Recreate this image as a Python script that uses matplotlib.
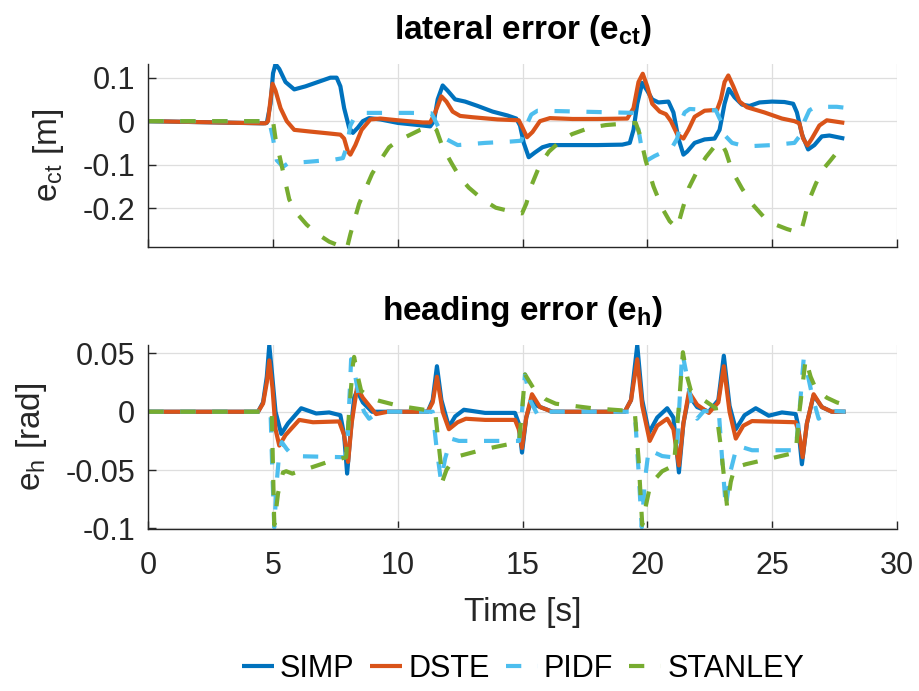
import matplotlib
matplotlib.use("Agg")
import matplotlib.pyplot as plt

plt.rcParams['font.family'] = ['Liberation Sans', 'DejaVu Sans']
plt.rcParams['mathtext.fontset'] = 'custom'
plt.rcParams['mathtext.rm'] = 'Liberation Sans'
plt.rcParams['mathtext.it'] = 'Liberation Sans:italic'
plt.rcParams['mathtext.bf'] = 'Liberation Sans:bold'
plt.rcParams['lines.scale_dashes'] = False
plt.rcParams['axes.unicode_minus'] = False

# ---------------- data: lateral error e_ct [m] ----------------
t_simp_ct = [0, 4.6, 4.75, 4.9, 5.0, 5.1, 5.25, 5.5, 5.85, 6.3, 6.8, 7.3, 7.55, 7.7, 7.85, 8.05, 8.2,
             8.4, 8.6, 8.85, 9.3, 10, 11.0, 11.3, 11.45, 11.6, 11.8, 12.0, 12.3, 12.7, 13.2, 13.8,
             14.4, 14.75, 14.9, 15.05, 15.25, 15.5, 15.8, 16.1, 17, 18, 19.0, 19.3, 19.45, 19.6,
             19.8, 20.0, 20.2, 20.45, 20.85, 21.05, 21.25, 21.45, 21.6, 21.9, 22.3, 22.7, 22.9,
             23.1, 23.27, 23.5, 23.8, 24.1, 24.5, 25, 25.5, 25.85, 26.0, 26.2, 26.45, 26.7, 27.0,
             27.3, 27.9]
simp_ct = [0, -0.005, -0.004, 0.04, 0.11, 0.131, 0.12, 0.09, 0.073, 0.08, 0.09, 0.1, 0.1, 0.08,
           0.03, -0.015, -0.027, -0.015, 0.0, 0.007, 0.004, -0.004, -0.01, -0.012, 0.0, 0.05,
           0.082, 0.07, 0.05, 0.045, 0.035, 0.022, 0.013, 0.006, -0.01, -0.05, -0.083, -0.072,
           -0.06, -0.055, -0.055, -0.055, -0.054, -0.05, -0.02, 0.04, 0.088, 0.07, 0.05, 0.043,
           0.045, 0.02, -0.04, -0.077, -0.07, -0.05, -0.042, -0.04, -0.02, 0.04, 0.074, 0.055,
           0.038, 0.035, 0.043, 0.045, 0.044, 0.04, 0.02, -0.03, -0.065, -0.055, -0.035, -0.033,
           -0.04]

t_dste_ct = [0, 4.7, 4.8, 4.9, 4.98, 5.1, 5.3, 5.55, 5.85, 6.5, 7.2, 7.7, 7.85, 8.0, 8.1, 8.3, 8.55,
             8.9, 9.3, 10, 11, 11.3, 11.5, 11.75, 11.95, 12.2, 12.5, 13, 14, 14.85, 15.0, 15.18,
             15.4, 15.7, 16.1, 17, 18, 19.2, 19.45, 19.65, 19.82, 20.0, 20.2, 20.5, 20.75, 20.95,
             21.2, 21.45, 21.65, 21.9, 22.3, 22.8, 22.95, 23.1, 23.25, 23.45, 23.7, 24.0, 24.7,
             25.4, 25.9, 26.1, 26.25, 26.42, 26.6, 26.9, 27.2, 27.9]
dste_ct = [0, -0.005, 0.0, 0.05, 0.086, 0.07, 0.03, 0.0, -0.02, -0.024, -0.028, -0.031, -0.04,
           -0.07, -0.077, -0.055, -0.02, 0.004, 0.006, 0.002, -0.003, -0.003, 0.02, 0.057, 0.045,
           0.022, 0.012, 0.009, 0.004, 0.002, -0.015, -0.037, -0.025, 0.0, 0.007, 0.005, 0.005,
           0.006, 0.03, 0.09, 0.109, 0.08, 0.04, 0.022, 0.016, 0.0, -0.03, -0.04, -0.02, 0.01,
           0.024, 0.026, 0.05, 0.09, 0.105, 0.08, 0.045, 0.032, 0.02, 0.006, 0.0, -0.005, -0.04,
           -0.056, -0.04, -0.01, 0.002, -0.004]

t_pidf_ct = [0, 4.85, 5.0, 5.15, 5.4, 5.6, 6.5, 7.5, 7.8, 7.95, 8.1, 8.3, 8.6, 9.5, 10.5, 11.35,
             11.6, 11.9, 12.4, 13.5, 14.5, 14.95, 15.15, 15.35, 15.6, 16.5, 18, 19.5, 19.65, 19.8,
             20.0, 20.3, 20.6, 21.0, 21.2, 21.35, 21.5, 21.7, 22.3, 22.75, 22.95, 23.15, 23.4,
             23.95, 25, 25.9, 26.1, 26.3, 26.5, 26.75, 27.3, 27.6, 27.9]
pidf_ct = [0, 0.0, -0.04, -0.09, -0.105, -0.097, -0.093, -0.088, -0.085, -0.06, -0.01, 0.012,
           0.019, 0.019, 0.019, 0.018, -0.01, -0.04, -0.055, -0.05, -0.047, -0.045, -0.01, 0.015,
           0.024, 0.023, 0.021, 0.019, -0.02, -0.07, -0.09, -0.08, -0.072, -0.06, -0.04, 0.0,
           0.02, 0.028, 0.026, 0.025, 0.0, -0.035, -0.05, -0.058, -0.055, -0.05, -0.035, 0.0,
           0.025, 0.033, 0.033, 0.033, 0.031]

t_stan_ct = [0, 5.0, 5.1, 5.3, 5.65, 6.0, 6.35, 6.8, 7.25, 7.6, 7.95, 8.1, 8.45, 8.97, 9.3, 9.65,
             10.0, 10.33, 10.9, 11.37, 11.55, 11.8, 12.17, 12.5, 12.85, 13.4, 13.93, 14.5, 14.98,
             15.15, 15.38, 15.7, 16.06, 16.5, 16.98, 17.7, 18.34, 19.0, 19.54, 19.7, 19.94, 20.25,
             20.6, 20.9, 21.2, 21.4, 21.67, 22.0, 22.35, 22.7, 22.95, 23.15, 23.4, 23.8, 24.2,
             24.7, 25.15, 25.6, 26.0, 26.15, 26.3, 26.47, 26.75, 27.0, 27.35, 27.67, 27.9]
stan_ct = [0, 0.0, -0.04, -0.09, -0.18, -0.215, -0.238, -0.26, -0.277, -0.285, -0.295, -0.26,
           -0.19, -0.121, -0.09, -0.06, -0.045, -0.036, -0.02, -0.011, -0.02, -0.06, -0.098,
           -0.13, -0.153, -0.18, -0.199, -0.207, -0.212, -0.19, -0.145, -0.1, -0.07, -0.047,
           -0.03, -0.015, -0.009, -0.006, -0.004, -0.03, -0.091, -0.15, -0.2, -0.23, -0.246,
           -0.205, -0.153, -0.115, -0.083, -0.058, -0.048, -0.07, -0.114, -0.155, -0.19, -0.222,
           -0.238, -0.248, -0.255, -0.257, -0.225, -0.184, -0.145, -0.114, -0.09, -0.067, -0.05]

# ---------------- data: heading error e_h [rad] ----------------
t_simp_h = [0, 4.4, 4.6, 4.75, 4.85, 4.95, 5.1, 5.33, 5.6, 6.13, 6.73, 7.25, 7.7, 7.85, 7.97, 8.1,
            8.25, 8.37, 8.6, 8.97, 11.2, 11.4, 11.57, 11.75, 12.05, 12.3, 12.65, 13.5, 14.7, 14.85,
            14.98, 15.15, 15.38, 15.6, 16.2, 19.1, 19.35, 19.6, 19.8, 20.07, 20.4, 20.8, 21.05,
            21.27, 21.45, 21.67, 22.0, 22.47, 22.85, 23.07, 23.3, 23.55, 23.9, 24.35, 24.87, 25.4,
            25.95, 26.05, 26.2, 26.4, 26.67, 27.0, 27.4, 27.95]
simp_h = [0, 0, 0.008, 0.03, 0.057, 0.035, 0.0, -0.019, -0.01, 0.003, -0.0015, -0.0006, -0.003,
          -0.02, -0.053, -0.02, 0.012, 0.018, 0.008, 0.0, 0.0, 0.01, 0.039, 0.01, -0.013, -0.004,
          0.0017, -0.001, -0.001, -0.01, -0.035, -0.005, 0.012, 0.005, 0.0, 0.0, 0.01, 0.057,
          0.01, -0.018, -0.005, 0.003, -0.005, -0.052, -0.01, 0.014, 0.004, 0.0, 0.01, 0.048,
          0.005, -0.015, -0.003, 0.003, -0.0034, -0.0006, -0.002, -0.012, -0.045, -0.01, 0.014,
          0.004, 0.0, 0.0]

t_dste_h = [0, 4.4, 4.6, 4.75, 4.85, 4.98, 5.1, 5.25, 5.5, 6.05, 6.6, 7.65, 7.85, 8.01, 8.15, 8.37,
            8.6, 9.13, 9.6, 11.2, 11.4, 11.57, 11.8, 12.05, 12.4, 12.73, 13.5, 14.7, 14.85, 14.98,
            15.15, 15.38, 15.7, 16.2, 19.1, 19.35, 19.6, 19.8, 20.1, 20.4, 20.8, 21.05, 21.27,
            21.45, 21.67, 22.0, 22.47, 22.85, 23.07, 23.3, 23.55, 23.85, 24.2, 25.95, 26.08, 26.23,
            26.4, 26.67, 27.0, 27.4, 27.95]
dste_h = [0, 0, 0.007, 0.025, 0.044, 0.02, -0.015, -0.029, -0.02, -0.007, -0.009, -0.0083, -0.02,
          -0.043, -0.01, 0.021, 0.012, -0.002, 0.0, 0.0, 0.008, 0.03, 0.0, -0.015, -0.009, -0.006,
          -0.007, -0.007, -0.015, -0.031, -0.005, 0.015, 0.004, 0.0, 0.0, 0.01, 0.045, 0.005,
          -0.025, -0.012, -0.006, -0.015, -0.046, -0.01, 0.017, 0.006, -0.001, 0.008, 0.039, 0.0,
          -0.023, -0.012, -0.008, -0.009, -0.018, -0.039, -0.01, 0.015, 0.004, 0.0, 0.0]

t_pidf_h = [0, 4.9, 4.97, 5.05, 5.15, 5.25, 5.35, 5.55, 5.8, 7.9, 8.0, 8.13, 8.3, 8.45, 8.65, 8.85,
            9.25, 11.4, 11.55, 11.73, 11.9, 12.13, 12.45, 14.86, 14.98, 15.1, 15.3, 15.66, 16.06,
            19.5, 19.65, 19.78, 19.9, 20.06, 20.3, 20.6, 21.0, 21.2, 21.3, 21.4, 21.55, 21.67,
            21.85, 22.0, 22.27, 22.87, 23.0, 23.15, 23.35, 23.6, 24.2, 25.95, 26.1, 26.27, 26.45,
            26.6, 26.87, 27.27, 27.95]
pidf_h = [0, 0, -0.05, -0.099, -0.06, -0.035, -0.026, -0.032, -0.038, -0.039, -0.02, 0.045, 0.03,
          0.012, 0.0, -0.006, 0.0, 0.0, -0.03, -0.059, -0.04, -0.023, -0.025, -0.025, 0.0, 0.032,
          0.01, -0.005, 0.0, 0.0, -0.05, -0.099, -0.06, -0.032, -0.035, -0.038, -0.039, -0.03,
          0.01, 0.051, 0.035, 0.02, 0.0, -0.006, 0.0006, 0.0, -0.04, -0.082, -0.05, -0.029,
          -0.033, -0.033, 0.0, 0.045, 0.03, 0.015, -0.006, 0.001, 0.0]

t_stan_h = [0, 4.95, 5.0, 5.05, 5.2, 5.4, 5.53, 5.77, 6.5, 7.2, 7.93, 8.05, 8.2, 8.25, 8.4, 8.53,
            8.9, 9.25, 10.05, 10.97, 11.5, 11.65, 11.8, 11.95, 12.2, 12.45, 13.5, 14.86, 14.98,
            15.1, 15.3, 15.5, 15.9, 16.33, 17.8, 19.1, 19.5, 19.65, 19.8, 19.95, 20.13, 20.6,
            21.07, 21.25, 21.43, 21.6, 21.75, 22.2, 22.75, 22.95, 23.2, 23.35, 23.5, 23.95, 25.95,
            26.1, 26.35, 26.55, 26.75, 27.2, 27.6, 27.9]
stan_h = [0, 0, -0.05, -0.097, -0.07, -0.052, -0.051, -0.053, -0.048, -0.043, -0.039, 0.0, 0.04,
          0.047, 0.03, 0.018, 0.012, 0.0094, 0.005, 0.002, 0.0, -0.03, -0.059, -0.05, -0.042,
          -0.038, -0.032, -0.026, 0.0, 0.032, 0.025, 0.018, 0.011, 0.0069, 0.003, 0.001, 0.0,
          -0.04, -0.097, -0.08, -0.062, -0.051, -0.046, 0.0, 0.051, 0.03, 0.018, 0.011, 0.003,
          -0.03, -0.081, -0.06, -0.048, -0.045, -0.035, 0.0, 0.045, 0.03, 0.02, 0.012, 0.008,
          0.006]

labels = ['SIMP', 'DSTE', 'PIDF', 'STANLEY']
colors = ['#0072BD', '#D95319', '#4DBEEE', '#77AC30']

x_ticks = [0, 5, 10, 15, 20, 25, 30]
ct_ticks = [0.1, 0, -0.1, -0.2]
ct_ticklabels = ['0.1', '0', '-0.1', '-0.2']
h_ticks = [0.05, 0, -0.05, -0.1]
h_ticklabels = ['0.05', '0', '-0.05', '-0.1']

# ---------------- figure ----------------
W, H = 919, 691
fig = plt.figure(figsize=(W / 100, H / 100), dpi=100)
ax1 = fig.add_axes([148.3 / W, 1 - 247.3 / H, 748.4 / W, 183.3 / H])
ax2 = fig.add_axes([148.3 / W, 1 - 529 / H, 748.4 / W, 184 / H])

txt = '#262626'
lw = 3.0
dash = (11.0, 12.0)


def draw(ax, series):
    hs = []
    for (t, y), c, lab in zip(series, colors, labels):
        if lab in ('PIDF', 'STANLEY'):
            h, = ax.plot(t, y, color=c, lw=lw, label=lab, dashes=dash,
                         dash_capstyle='butt', dash_joinstyle='round')
        else:
            h, = ax.plot(t, y, color=c, lw=lw, label=lab, solid_capstyle='butt',
                         solid_joinstyle='round')
        hs.append(h)
    return hs


handles = draw(ax1, [(t_simp_ct, simp_ct), (t_dste_ct, dste_ct),
                     (t_pidf_ct, pidf_ct), (t_stan_ct, stan_ct)])
draw(ax2, [(t_simp_h, simp_h), (t_dste_h, dste_h),
           (t_pidf_h, pidf_h), (t_stan_h, stan_h)])

for ax in (ax1, ax2):
    ax.set_xlim(0, 30)
    ax.set_xticks(x_ticks)
    ax.grid(True, color='#dedede', linewidth=0.9)
    ax.set_axisbelow(True)
    for s in ('top', 'right'):
        ax.spines[s].set_visible(False)
    for s in ('left', 'bottom'):
        ax.spines[s].set_color(txt)
        ax.spines[s].set_linewidth(1.0)
    ax.tick_params(direction='in', length=6, width=1.0, color=txt, labelcolor=txt,
                   labelsize=22)
    ax.tick_params(axis='x', pad=16)
    ax.tick_params(axis='y', pad=9.5)

ax1.set_ylim(-0.29, 0.1314)
ax1.set_yticks(ct_ticks)
ax1.set_yticklabels(ct_ticklabels)
ax1.tick_params(axis='x', labelbottom=False)
ax1.set_ylabel(r'$\mathrm{e_{ct}}$ [m]', fontsize=24, color=txt, labelpad=12)
ax1.set_title(r'lateral error ($\mathbf{e_{ct}}$)', fontsize=24, fontweight='bold', pad=18)

ax2.set_ylim(-0.1005, 0.0572)
ax2.set_yticks(h_ticks)
ax2.set_yticklabels(h_ticklabels)
ax2.set_xticklabels([str(v) for v in x_ticks])
ax2.set_ylabel(r'$\mathrm{e_{h}}$ [rad]', fontsize=24, color=txt, labelpad=12)
ax2.set_xlabel('Time [s]', fontsize=24, color=txt, labelpad=11)
ax2.set_title(r'heading error ($\mathbf{e_{h}}$)', fontsize=24, fontweight='bold', pad=18)

leg = fig.legend(handles, labels, loc='center', bbox_to_anchor=(523 / W, 1 - 669 / H),
                 ncol=4, frameon=False, fontsize=22, handlelength=1.05,
                 handletextpad=0.2, columnspacing=0.52, borderaxespad=0)
for t in leg.get_texts():
    t.set_color('black')

fig.savefig('out.png', dpi=100, facecolor='white')
